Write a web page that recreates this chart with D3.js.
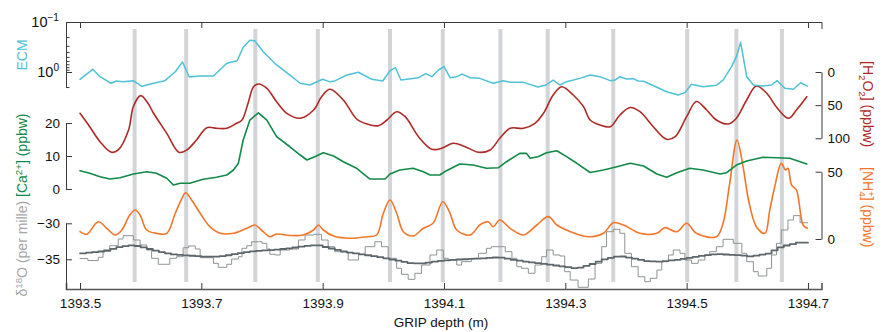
<!DOCTYPE html>
<html>
<head>
<meta charset="utf-8">
<script src="https://cdn.jsdelivr.net/npm/d3@7"></script>
<style>
  body { margin: 0; background: #fff; }
  svg { display: block; }
  text { font-family: "Liberation Sans", Arial, Helvetica, sans-serif; }
</style>
</head>
<body>
<svg id="chart" width="892" height="332"></svg>
<script>
// ---- Depth ticks and marked events (m) ----
const depthTicks = [1393.5, 1393.7, 1393.9, 1394.1, 1394.3, 1394.5, 1394.7];
const eventDepths = [1393.590, 1393.675, 1393.789, 1393.892, 1394.011, 1394.098,
                     1394.193, 1394.271, 1394.379, 1394.501, 1394.582, 1394.657];

// ---- ECM (log axis, relative units) ----
const ecmDepth = [1393.500,1393.521,1393.533,1393.551,1393.560,1393.571,1393.588,1393.602,1393.621,1393.640,
  1393.657,1393.669,1393.680,1393.698,1393.720,1393.742,1393.759,1393.769,1393.780,1393.788,
  1393.802,1393.821,1393.846,1393.863,1393.879,1393.900,1393.911,1393.920,1393.940,1393.959,
  1393.981,1393.999,1394.011,1394.020,1394.029,1394.058,1394.070,1394.080,1394.091,1394.100,
  1394.110,1394.121,1394.130,1394.143,1394.159,1394.181,1394.198,1394.209,1394.231,1394.255,
  1394.268,1394.280,1394.291,1394.302,1394.324,1394.341,1394.357,1394.374,1394.382,1394.390,
  1394.401,1394.412,1394.420,1394.429,1394.451,1394.467,1394.486,1394.497,1394.508,1394.527,
  1394.549,1394.560,1394.574,1394.582,1394.589,1394.599,1394.610,1394.626,1394.640,1394.649,
  1394.662,1394.676,1394.688,1394.699];
const ecmValue = [1.40,0.883,1.24,1.68,1.51,1.56,1.49,1.93,1.68,1.49,
  0.986,0.631,1.26,1.20,1.20,0.670,0.594,0.321,0.232,0.237,
  0.393,0.670,1.15,1.68,1.82,1.40,1.56,1.51,1.15,1.01,
  1.40,1.51,0.942,0.820,1.45,1.30,1.08,1.24,0.912,0.783,
  1.30,1.24,1.10,1.30,1.34,1.68,1.49,1.61,1.61,2.00,
  1.82,1.45,1.82,1.56,1.34,1.15,1.24,1.49,1.45,1.24,
  1.38,1.36,1.51,1.53,2.02,2.48,2.88,2.59,1.76,1.97,
  1.85,1.45,0.783,0.494,0.255,1.24,1.82,1.91,1.82,1.49,
  2.12,2.22,1.64,1.91];

// ---- H2O2 (ppbw, reversed axis) ----
const h2o2Depth = [1393.500,1393.516,1393.533,1393.552,1393.563,1393.580,1393.588,1393.600,1393.612,1393.621,
  1393.643,1393.663,1393.676,1393.692,1393.709,1393.725,1393.742,1393.758,1393.767,1393.777,
  1393.786,1393.794,1393.808,1393.824,1393.841,1393.863,1393.885,1393.899,1393.912,1393.934,
  1393.956,1393.973,1393.992,1394.006,1394.022,1394.036,1394.058,1394.080,1394.096,1394.115,
  1394.135,1394.157,1394.176,1394.192,1394.209,1394.231,1394.250,1394.264,1394.280,1394.294,
  1394.313,1394.330,1394.341,1394.357,1394.374,1394.390,1394.407,1394.423,1394.445,1394.467,
  1394.481,1394.500,1394.516,1394.533,1394.549,1394.569,1394.582,1394.599,1394.615,1394.632,
  1394.648,1394.668,1394.681,1394.698];
const h2o2Value = [62.3,82.5,105.1,121.1,117.6,87.5,52,35.7,47.2,61.8,
  92.5,121.1,117.6,102.6,84.0,84.9,84.9,77.4,72.4,47.2,
  22.2,18.1,24.6,44.8,62.3,69.8,57.3,36.2,26.1,42.2,
  70.9,78.4,81.0,72.4,59.9,67.4,97.6,116.6,115.1,107.5,
  112.7,121.1,117.6,100.0,84.9,84.9,77.4,62.3,34.7,22.2,
  34.7,52.3,72.4,79.9,82.5,64.9,53.5,59.9,82.5,101.5,
  97.6,67.4,44.5,57.3,72.4,78.4,69.8,42.2,21.1,32.1,
  52.8,69.8,57.3,37.3];

// ---- Ca2+ (ppbw) ----
const caDepth = [1393.500,1393.516,1393.533,1393.549,1393.566,1393.588,1393.610,1393.626,1393.643,1393.654,
  1393.665,1393.681,1393.703,1393.725,1393.742,1393.753,1393.761,1393.769,1393.780,1393.794,
  1393.808,1393.824,1393.846,1393.863,1393.874,1393.887,1393.901,1393.918,1393.934,1393.956,
  1393.978,1394.003,1394.011,1394.027,1394.049,1394.066,1394.077,1394.093,1394.104,1394.126,
  1394.148,1394.170,1394.190,1394.203,1394.225,1394.236,1394.242,1394.255,1394.269,1394.286,
  1394.302,1394.319,1394.341,1394.363,1394.385,1394.407,1394.429,1394.451,1394.467,1394.484,
  1394.505,1394.527,1394.555,1394.566,1394.582,1394.599,1394.626,1394.670,1394.687,1394.698];
const caValue = [5.55,4.76,3.73,3.03,3.42,4.55,5.24,4.76,3.24,1.21,
  1.73,1.73,2.94,3.55,4.24,5.76,7.79,14.85,20.9,23.1,
  20.9,15.85,12.8,10.3,8.79,9.79,11.0,10.0,8.27,6.27,
  3.03,3.03,4.55,5.76,6.27,5.24,4.24,4.24,5.55,7.58,
  7.27,6.27,6.45,8.27,10.8,10.8,9.30,9.79,11.0,11.6,
  9.79,7.79,5.0,5.76,6.76,7.79,6.97,4.55,3.55,4.94,
  6.27,5.76,4.55,4.94,7.27,8.48,9.61,9.30,8.27,7.58];

// ---- NH4+ (ppbw) ----
const nh4Depth = [1393.500,1393.511,1393.530,1393.544,1393.558,1393.569,1393.582,1393.591,1393.599,1393.610,
  1393.626,1393.643,1393.657,1393.668,1393.674,1393.684,1393.698,1393.714,1393.731,1393.753,
  1393.775,1393.788,1393.802,1393.813,1393.824,1393.846,1393.868,1393.885,1393.893,1393.901,
  1393.918,1393.945,1393.973,1393.989,1394.000,1394.011,1394.022,1394.033,1394.049,1394.066,
  1394.082,1394.098,1394.110,1394.121,1394.143,1394.159,1394.173,1394.181,1394.192,1394.209,
  1394.231,1394.253,1394.272,1394.286,1394.302,1394.324,1394.341,1394.363,1394.379,1394.396,
  1394.423,1394.451,1394.464,1394.484,1394.500,1394.516,1394.549,1394.560,1394.571,1394.583,
  1394.593,1394.602,1394.615,1394.629,1394.637,1394.645,1394.656,1394.663,1394.667,1394.673,
  1394.681,1394.692,1394.699];
const nh4Value = [5.42,3.49,12.85,7.95,2.97,6.69,17.8,21.5,17.8,6.69,
  4.23,4.23,19.1,30.2,34.4,29.0,19.1,9.14,4.23,4.23,
  7.95,10.4,5.42,1.71,3.71,2.6,2.97,6.69,10.4,6.69,
  2.23,0.52,1.71,2.97,19.1,29.0,19.1,5.42,2.23,7.95,
  11.7,27.7,19.1,6.69,2.97,10.4,12.85,9.14,14.1,7.95,
  2.97,10.4,16.6,10.4,6.69,2.97,1.71,4.23,12.1,10.4,
  4.23,4.23,8.4,5.42,11.7,4.23,1.71,11.7,41.4,73.6,
  53.7,29.0,9.14,4.23,21.5,38.4,56.2,51.3,52.5,40.1,
  36.4,10.4,7.95];

// ---- δ18O, per-sample steps (per mille) ----
const d18oStepDepth = [1393.500,1393.513,1393.530,1393.538,1393.549,1393.563,1393.571,1393.588,1393.599,1393.610,
  1393.618,1393.629,1393.648,1393.659,1393.670,1393.679,1393.690,1393.698,1393.720,1393.728,
  1393.742,1393.750,1393.761,1393.767,1393.775,1393.783,1393.800,1393.808,1393.813,1393.822,
  1393.830,1393.846,1393.860,1393.871,1393.885,1393.898,1393.909,1393.920,1393.942,1393.959,
  1393.970,1393.986,1393.997,1394.008,1394.022,1394.030,1394.041,1394.052,1394.063,1394.077,
  1394.088,1394.099,1394.107,1394.121,1394.129,1394.145,1394.157,1394.170,1394.178,1394.201,
  1394.212,1394.220,1394.228,1394.239,1394.250,1394.261,1394.269,1394.280,1394.291,1394.299,
  1394.308,1394.321,1394.338,1394.349,1394.360,1394.368,1394.379,1394.390,1394.398,1394.409,
  1394.420,1394.431,1394.440,1394.451,1394.459,1394.470,1394.478,1394.489,1394.497,1394.508,
  1394.519,1394.530,1394.538,1394.549,1394.560,1394.577,1394.591,1394.599,1394.610,1394.618,
  1394.632,1394.640,1394.648,1394.656,1394.667,1394.676,1394.687,1394.700];
const d18oStepValue = [-34.89,-35.17,-34.72,-33.71,-33.11,-32.18,-31.72,-32.32,-33.01,-33.71,
  -34.86,-35.69,-34.86,-34.64,-33.39,-33.15,-33.57,-34.78,-35.56,-36.11,
  -35.69,-34.96,-34.64,-33.47,-33.11,-32.56,-32.78,-33.57,-34.31,-34.40,
  -33.71,-33.57,-32.32,-31.63,-31.53,-32.32,-33.25,-33.94,-35.10,-34.31,
  -33.25,-32.56,-33.25,-34.86,-36.25,-37.08,-37.78,-36.94,-35.79,-34.40,
  -33.71,-34.86,-35.10,-35.79,-35.33,-34.86,-34.17,-33.47,-33.25,-33.94,
  -34.86,-36.03,-36.25,-36.94,-35.79,-34.64,-33.71,-34.40,-34.54,-36.72,
  -37.88,-38.89,-37.74,-35.56,-33.25,-31.17,-30.83,-31.39,-34.17,-36.03,
  -37.42,-38.11,-37.64,-36.49,-35.33,-34.40,-33.71,-34.17,-35.10,-35.56,
  -35.10,-34.40,-33.94,-33.25,-32.22,-32.78,-34.17,-35.33,-36.72,-37.32,
  -36.25,-34.40,-32.78,-30.93,-29.54,-28.94,-29.92,-29.92];

// ---- δ18O, smoothed record on a 1 cm grid (per mille) ----
const d18oFineDepth = d3.range(121).map(i => +(1393.5 + i * 0.01).toFixed(2));
const d18oFineValue = [-34.17,-34.08,-34.00,-33.92,-33.81,-33.54,-33.32,-33.17,-33.07,-33.15,
  -33.35,-33.57,-33.79,-34.00,-34.17,-34.32,-34.39,-34.46,-34.51,-34.57,
  -34.63,-34.64,-34.64,-34.56,-34.44,-34.29,-34.15,-34.01,-33.90,-33.82,
  -33.76,-33.72,-33.65,-33.57,-33.47,-33.36,-33.25,-33.14,-33.07,-33.07,
  -33.29,-33.50,-33.69,-33.92,-34.07,-34.19,-34.32,-34.44,-34.57,-34.71,
  -34.88,-35.04,-35.19,-35.36,-35.54,-35.56,-35.56,-35.46,-35.31,-35.21,
  -35.14,-35.08,-35.03,-34.99,-34.94,-34.90,-34.88,-34.81,-34.75,-34.76,
  -34.92,-35.07,-35.19,-35.31,-35.43,-35.53,-35.63,-35.74,-35.86,-35.97,
  -36.10,-36.22,-36.15,-35.90,-35.65,-35.33,-35.01,-34.81,-34.63,-34.61,
  -34.76,-34.92,-35.08,-35.24,-35.29,-35.33,-35.25,-35.15,-35.07,-34.93,
  -34.79,-34.65,-34.53,-34.42,-34.31,-34.29,-34.33,-34.38,-34.43,-34.50,
  -34.60,-34.50,-34.35,-34.21,-33.76,-33.35,-33.08,-32.90,-32.69,-32.69,
  -32.69];

// ---- Colours ----
const C = {
  ecm: "#4fc1d8", h2o2: "#ae2a26", ca: "#128a47", nh4: "#f3762a",
  d18oRaw: "#8f9394", d18oSmooth: "#5d676b", d18oLabel: "#a3a6a8",
  band: "#d2d4d7", axis: "#3a3a3a"
};

const svg = d3.select("#chart");
const FONT = 13.5;

// ---- Scales ----
const x = d3.scaleLinear().domain([1393.4769, 1394.7223]).range([66, 821.5]);
const yEcm = d3.scaleLog().domain([0.1, 1]).range([22, 72]);
const yH2o2 = d3.scaleLinear().domain([0, 100]).range([72, 138.3]);
const yCa = d3.scaleLinear().domain([0, 20]).range([189, 123]);
const yNh4 = d3.scaleLinear().domain([0, 50]).range([239, 171.7]);
const yD18o = d3.scaleLinear().domain([-35, -30]).range([259.3, 223.3]);

// ---- Event bands ----
svg.append("g").selectAll("line").data(eventDepths).join("line")
  .attr("x1", d => x(d)).attr("x2", d => x(d))
  .attr("y1", 29).attr("y2", 282)
  .attr("stroke", C.band).attr("stroke-width", 4);

// ---- Axes ----
function styleAxis(g) {
  g.attr("font-family", null).attr("font-size", FONT);
  g.selectAll("path.domain").attr("stroke", C.axis).attr("stroke-width", 1);
  g.selectAll(".tick line").attr("stroke", C.axis).attr("stroke-width", 1);
  g.selectAll(".tick text").attr("fill", "#111");
}

// top frame
svg.append("g").attr("transform", "translate(0,22)")
  .call(d3.axisTop(x).tickValues(depthTicks).tickSize(-6).tickSizeOuter(-7).tickFormat(""))
  .call(styleAxis);

// bottom depth axis
const xAxisB = svg.append("g").attr("transform", "translate(0,289)")
  .call(d3.axisBottom(x).tickValues(depthTicks).tickSize(-6).tickSizeOuter(-6)
    .tickPadding(9).tickFormat(d3.format(".1f")))
  .call(styleAxis);
xAxisB.select("path.domain").attr("stroke", "#555").attr("stroke-width", 1.6);

svg.append("text").attr("x", 441).attr("y", 327).attr("text-anchor", "middle")
  .attr("font-size", FONT).attr("fill", "#111").text("GRIP depth (m)");

// ECM log axis (0.1 .. 2)
const ecmTicks = [0.1, 0.2, 0.3, 0.4, 0.5, 0.6, 0.7, 0.8, 0.9, 1, 2];
const yEcmAxis = yEcm.copy().domain([0.1, 2]).range([yEcm(0.1), yEcm(2)]);
const ecmAxis = svg.append("g").attr("transform", "translate(66,0)")
  .call(d3.axisLeft(yEcmAxis).tickValues(ecmTicks).tickSize(-6).tickSizeOuter(0).tickFormat(""))
  .call(styleAxis);
ecmAxis.selectAll(".tick line").attr("x2", d => (d === 0.1 || d === 1) ? 6 : 3.5);

function powerLabel(y, exp) {
  const t = svg.append("text").attr("x", 59).attr("y", y + 5)
    .attr("text-anchor", "end").attr("font-size", FONT + 1).attr("fill", "#111");
  t.append("tspan").text("10");
  t.append("tspan").attr("dy", -6).attr("font-size", FONT * 0.75).text(exp);
}
powerLabel(yEcm(0.1), "\u22121");
powerLabel(yEcm(1), "0");

svg.append("text")
  .attr("transform", `translate(27,${55}) rotate(-90)`)
  .attr("text-anchor", "middle").attr("font-size", FONT + 0.5).attr("fill", C.ecm)
  .text("ECM");

// Ca axis
svg.append("g").attr("transform", "translate(66,0)")
  .call(d3.axisLeft(yCa).tickValues([0, 10, 20]).tickSize(-6).tickSizeOuter(0).tickPadding(6))
  .call(styleAxis);

// δ18O axis, running down to the depth axis
const yD18oAxis = yD18o.copy().domain([yD18o.invert(289), -30]).range([289, yD18o(-30)]);
svg.append("g").attr("transform", "translate(66,0)")
  .call(d3.axisLeft(yD18oAxis).tickValues([-35, -30]).tickSize(-6).tickSizeOuter(0).tickPadding(6))
  .call(styleAxis);

// H2O2 axis (right)
svg.append("g").attr("transform", "translate(821.5,0)")
  .call(d3.axisRight(yH2o2).tickValues([0, 50, 100]).tickSize(-6).tickSizeOuter(0).tickPadding(6))
  .call(styleAxis);

// NH4 axis (right)
svg.append("g").attr("transform", "translate(821.5,0)")
  .call(d3.axisRight(yNh4).tickValues([0, 50]).tickSize(-6).tickSizeOuter(0).tickPadding(6))
  .call(styleAxis);

// ---- Axis titles with sub/superscripts ----
function richText(g, parts) {
  parts.forEach(p => {
    const ts = g.append("tspan").attr("fill", p.c).text(p.t);
    if (p.s === "sup") ts.attr("dy", -5).attr("font-size", FONT * 0.72);
    if (p.s === "sub") ts.attr("dy", 4).attr("font-size", FONT * 0.72);
    if (p.back) ts.attr("dy", p.back);
    if (p.dx) ts.attr("dx", p.dx);
  });
}

const leftTitle = svg.append("text")
  .attr("transform", "translate(27,205) rotate(-90)")
  .attr("text-anchor", "middle").attr("font-size", FONT + 0.5);
richText(leftTitle, [
  { t: "\u03b4", c: C.d18oLabel },
  { t: "18", c: C.d18oLabel, s: "sup" },
  { t: "O (per mille) ", c: C.d18oLabel, back: 5 },
  { t: "[Ca", c: C.ca },
  { t: "2+", c: C.ca, s: "sup" },
  { t: "] (ppbw)", c: C.ca, back: 5 }
]);

const h2o2Title = svg.append("text")
  .attr("transform", "translate(863,61) rotate(90)")
  .attr("text-anchor", "start").attr("font-size", FONT + 0.5);
richText(h2o2Title, [
  { t: "[H", c: C.h2o2 },
  { t: "2", c: C.h2o2, s: "sub" },
  { t: "O", c: C.h2o2, back: -4 },
  { t: "2", c: C.h2o2, s: "sub" },
  { t: "] (ppbw)", c: C.h2o2, back: -4 }
]);

// NH4+ title: subscript 4 and superscript + stacked after "H"
const nh4Title = svg.append("text")
  .attr("transform", "translate(863,167) rotate(90)")
  .attr("text-anchor", "start").attr("font-size", FONT + 0.5);
richText(nh4Title, [
  { t: "[NH", c: C.nh4 },
  { t: "4", c: C.nh4, s: "sub" },
  { t: "+", c: C.nh4, s: "sup", back: -9, dx: -5.5 },
  { t: "] (ppbw)", c: C.nh4, back: 5 }
]);

// ---- Series ----
function drawLine(depths, values, yScale, color, width, curve) {
  const pts = depths.map((d, i) => [d, values[i]]);
  svg.append("path").datum(pts)
    .attr("fill", "none").attr("stroke", color).attr("stroke-width", width)
    .attr("stroke-linejoin", "round").attr("stroke-linecap", "round")
    .attr("d", d3.line().x(p => x(p[0])).y(p => yScale(p[1])).curve(curve));
}

drawLine(d18oStepDepth, d18oStepValue, yD18o, C.d18oRaw, 1, d3.curveStepAfter);
drawLine(d18oFineDepth, d18oFineValue, yD18o, C.d18oSmooth, 1.8, d3.curveStepAfter);
drawLine(nh4Depth, nh4Value, yNh4, C.nh4, 1.6, d3.curveCatmullRom.alpha(0.5));
drawLine(caDepth, caValue, yCa, C.ca, 1.6, d3.curveLinear);
drawLine(h2o2Depth, h2o2Value, yH2o2, C.h2o2, 1.6, d3.curveCatmullRom.alpha(0.5));
drawLine(ecmDepth, ecmValue, yEcm, C.ecm, 1.5, d3.curveLinear);
</script>
</body>
</html>
